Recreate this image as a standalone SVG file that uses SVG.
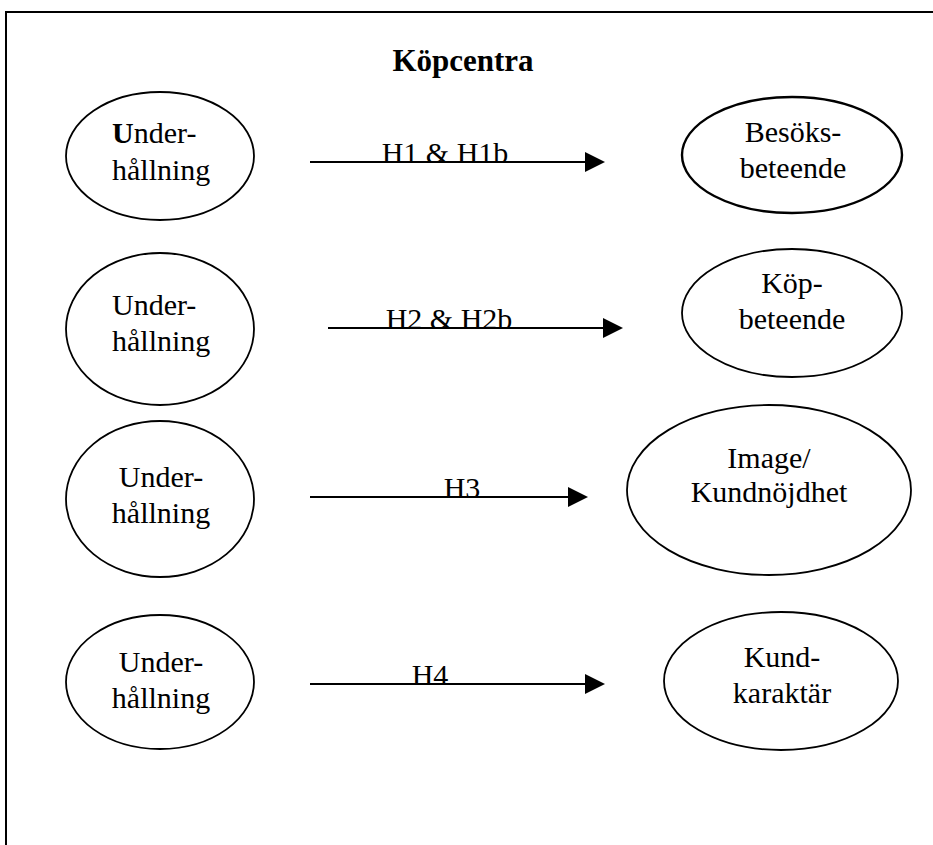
<svg xmlns="http://www.w3.org/2000/svg" width="933" height="845" viewBox="0 0 933 845">
<style>
  .node ellipse { fill: #fff; stroke: #000; stroke-width: 1.8; }
  .lbl { font-family: "Liberation Serif", "Times New Roman", serif; font-size: 30px; fill: #000; text-anchor: middle; }
  .st { text-anchor: start; }
  .edge { stroke: #000; stroke-width: 2; fill: none; }
  .head { fill: #000; }
  .title { font-family: "Liberation Serif", "Times New Roman", serif; font-size: 31px; font-weight: bold; text-anchor: middle; fill: #000; }
</style>
<rect width="933" height="845" fill="#fff"/>
<g id="frame">
  <path d="M6,845 L6,12 L933,12" stroke="#000" stroke-width="2" fill="none"/>
</g>
<text id="title" class="title" x="463" y="71">Köpcentra</text>

<g id="connectors">
  <path class="edge" d="M310,162 L587,162"/>
  <path class="head" d="M585,152 L605,162 L585,172 Z"/>
  <path class="edge" d="M328,328 L605,328"/>
  <path class="head" d="M603,318 L623,328 L603,338 Z"/>
  <path class="edge" d="M310,497 L570,497"/>
  <path class="head" d="M568,487 L588,497 L568,507 Z"/>
  <path class="edge" d="M310,684 L587,684"/>
  <path class="head" d="M585,674 L605,684 L585,694 Z"/>
  <text class="lbl" x="445" y="163">H1 &amp; H1b</text>
  <text class="lbl" x="449" y="329">H2 &amp; H2b</text>
  <text class="lbl" x="462" y="498">H3</text>
  <text class="lbl" x="430" y="685">H4</text>
</g>

<g id="u1" class="node">
  <ellipse cx="160" cy="156" rx="94" ry="64"/>
  <text class="lbl st" x="112" y="143"><tspan font-weight="bold">U</tspan>nder-</text>
  <text class="lbl st" x="112" y="180">hållning</text>
</g>
<g id="u2" class="node">
  <ellipse cx="160" cy="329" rx="94" ry="76"/>
  <text class="lbl st" x="112" y="315">Under-</text>
  <text class="lbl st" x="112" y="351">hållning</text>
</g>
<g id="u3" class="node">
  <ellipse cx="160" cy="499" rx="94" ry="78"/>
  <text class="lbl" x="161" y="487">Under-</text>
  <text class="lbl" x="161" y="523">hållning</text>
</g>
<g id="u4" class="node">
  <ellipse cx="160" cy="682" rx="94" ry="67"/>
  <text class="lbl" x="161" y="672">Under-</text>
  <text class="lbl" x="161" y="708">hållning</text>
</g>

<g id="besok" class="node">
  <ellipse cx="792" cy="155" rx="110" ry="58" style="stroke-width:2.4"/>
  <text class="lbl" x="793" y="142">Besöks-</text>
  <text class="lbl" x="793" y="178">beteende</text>
</g>
<g id="kop" class="node">
  <ellipse cx="792" cy="313" rx="110" ry="64"/>
  <text class="lbl" x="792" y="293">Köp-</text>
  <text class="lbl" x="792" y="329">beteende</text>
</g>
<g id="image" class="node">
  <ellipse cx="769" cy="490" rx="142" ry="85"/>
  <text class="lbl" x="769" y="468">Image/</text>
  <text class="lbl" x="769" y="502">Kundnöjdhet</text>
</g>
<g id="kund" class="node">
  <ellipse cx="781" cy="681" rx="117" ry="69"/>
  <text class="lbl" x="782" y="667">Kund-</text>
  <text class="lbl" x="782" y="703">karaktär</text>
</g>
</svg>
